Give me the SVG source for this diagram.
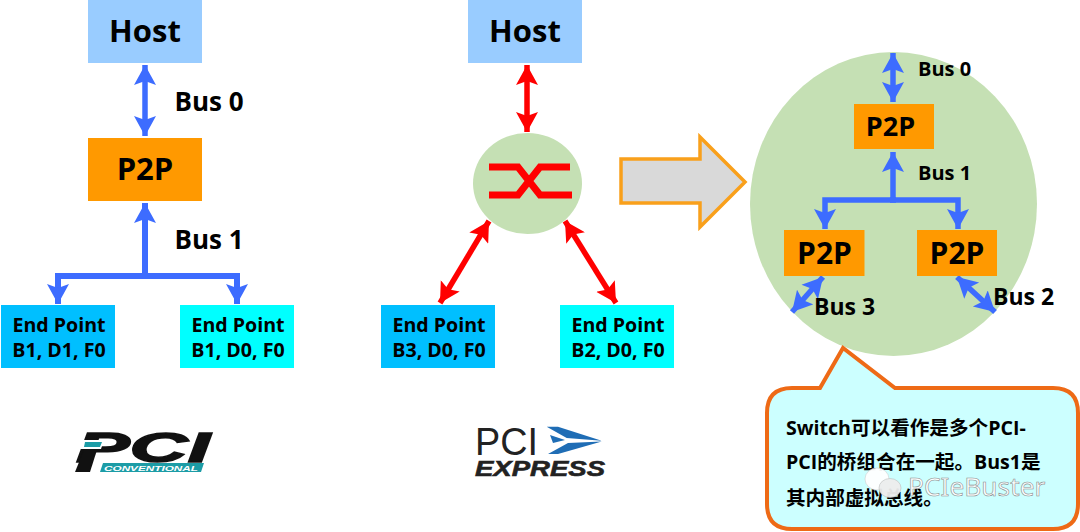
<svg xmlns="http://www.w3.org/2000/svg" width="1080" height="532" viewBox="0 0 1080 532">
<style>
text{font-family:"Open Sans","Noto Sans CJK SC",sans-serif;font-weight:700;fill:#000;text-anchor:middle}
.host{fill:#99CCFF}.p2p{fill:#FF9900}.ep1{fill:#00BFFF}.ep2{fill:#00FFFF}
.big{font-size:31px}.bus{font-size:26px;text-anchor:start}.ep{font-size:19.6px}.sm{font-size:20px;text-anchor:start}.note{font-size:19.6px;text-anchor:start}
.b{fill:none;stroke:#3D6CFF;stroke-width:5.5}.r{fill:none;stroke:#FF0000;stroke-width:5.5}
.be{marker-end:url(#ba)}.bb{marker-start:url(#bs);marker-end:url(#ba)}.rb{marker-start:url(#rs);marker-end:url(#ra)}
.logo{font-family:"Liberation Sans",sans-serif;text-anchor:start}
</style>
<defs>
<marker id="ba" markerUnits="userSpaceOnUse" markerWidth="24" markerHeight="24" refX="20" refY="11" orient="auto"><path d="M0,0L20,11L0,22L4,11Z" fill="#3D6CFF"/></marker>
<marker id="bs" markerUnits="userSpaceOnUse" markerWidth="24" markerHeight="24" refX="0" refY="11" orient="auto"><path d="M20,0L0,11L20,22L16,11Z" fill="#3D6CFF"/></marker>
<marker id="ra" markerUnits="userSpaceOnUse" markerWidth="24" markerHeight="24" refX="20" refY="11" orient="auto"><path d="M0,0L20,11L0,22L4,11Z" fill="#FF0000"/></marker>
<marker id="rs" markerUnits="userSpaceOnUse" markerWidth="24" markerHeight="24" refX="0" refY="11" orient="auto"><path d="M20,0L0,11L20,22L16,11Z" fill="#FF0000"/></marker>
</defs>
<rect width="1080" height="532" fill="#fff"/>

<g id="switch-detail-circle"><ellipse cx="893.5" cy="204" rx="143.5" ry="152" fill="#C5E0B4"/></g>

<g id="connectors">
<path class="b bb" d="M145,65V136"/>
<path class="b be" d="M145,276V203" style="stroke-width:6"/>
<path class="b be" d="M148,276H58V304" style="stroke-width:6"/>
<path class="b be" d="M142,276H237V304" style="stroke-width:6"/>
<path class="r rb" d="M527,65V132"/>
<path class="r rb" d="M489,221L440,303"/>
<path class="r rb" d="M565,221L616,303"/>
<path class="b bb" d="M893,53V102"/>
<path class="b be" d="M893,200V152"/>
<path class="b be" d="M896,200H825V229"/>
<path class="b be" d="M890,200H958V229"/>
<path class="b bb" d="M823,277L792,312"/>
<path class="b bb" d="M957,277L995,312"/>
</g>

<g id="host-left"><rect class="host" x="88" y="0" width="114" height="63"/><text class="big" x="145" y="42">Host</text></g>
<g id="p2p-left"><rect class="p2p" x="88" y="138" width="114" height="63"/><text class="big" x="145" y="180">P2P</text></g>
<g id="ep-b1d1"><rect class="ep1" x="1" y="305" width="114" height="63"/><text class="ep" x="59" y="332">End Point</text><text class="ep" x="59" y="357">B1, D1, F0</text></g>
<g id="ep-b1d0"><rect class="ep2" x="180" y="305" width="114" height="63"/><text class="ep" x="238" y="332">End Point</text><text class="ep" x="238" y="357">B1, D0, F0</text></g>
<text class="bus" x="174.5" y="111">Bus 0</text>
<text class="bus" x="174.5" y="249">Bus 1</text>

<g id="host-mid"><rect class="host" x="468" y="0" width="114" height="63"/><text class="big" x="525" y="42">Host</text></g>
<g id="switch-mid"><ellipse cx="527.5" cy="183.5" rx="54.5" ry="50.5" fill="#C5E0B4"/>
<path d="M489,167H518L540,195H572M489,195H518L540,167H570" fill="none" stroke="#FF0000" stroke-width="7"/></g>
<g id="ep-b3d0"><rect class="ep1" x="381" y="305" width="114" height="63"/><text class="ep" x="439" y="332">End Point</text><text class="ep" x="439" y="357">B3, D0, F0</text></g>
<g id="ep-b2d0"><rect class="ep2" x="560" y="305" width="114" height="63"/><text class="ep" x="618" y="332">End Point</text><text class="ep" x="618" y="357">B2, D0, F0</text></g>

<g id="block-arrow"><path d="M621,159H700V137L745,182L700,227V203H621Z" fill="#D9D9D9" stroke="#F9A01B" stroke-width="3.5"/></g>

<g id="p2p-top"><rect class="p2p" x="854" y="104" width="80" height="45"/><text x="890.5" y="136" style="font-size:27px">P2P</text></g>
<g id="p2p-bl"><rect class="p2p" x="784" y="230" width="80.5" height="46"/><text x="824.5" y="264" style="font-size:30px">P2P</text></g>
<g id="p2p-br"><rect class="p2p" x="917" y="230" width="80" height="46"/><text x="957" y="264" style="font-size:30px">P2P</text></g>
<text class="sm" x="918" y="76">Bus 0</text>
<text class="sm" x="918" y="180">Bus 1</text>
<text class="bus" x="814" y="315" style="font-size:23px">Bus 3</text>
<text class="bus" x="993" y="305" style="font-size:23px">Bus 2</text>

<g id="callout"><path d="M792,388H820L843,348L895,388H1053Q1078,388 1078,413V504Q1078,529 1053,529H792Q767,529 767,504V413Q767,388 792,388Z" fill="#CCFFFF" stroke="#EE6A16" stroke-width="4"/>
<text class="note" x="786" y="435">Switch可以看作是多个PCI-</text>
<text class="note" x="786" y="469">PCI的桥组合在一起。Bus1是</text>
<text class="note" x="786" y="505">其内部虚拟总线。</text></g>

<g id="watermark" opacity="0.95"><ellipse cx="877" cy="479" rx="12" ry="11" fill="#fff" stroke="#ccc" stroke-width=".6"/><ellipse cx="890" cy="488" rx="11" ry="9.5" fill="#eee" stroke="#bbb" stroke-width=".6"/>
<text x="908" y="496" style="font-size:26.3px;font-weight:400;fill:#fff;stroke:#888;stroke-width:.6;text-anchor:start;font-family:'Noto Sans',sans-serif">PCIeBuster</text></g>

<g id="logo-pci">
<text class="logo" x="76" y="462" textLength="134" lengthAdjust="spacingAndGlyphs" style="font-size:43px;font-weight:700;font-style:italic;stroke:#111;stroke-width:1.5;fill:#111">PCI</text>
<path d="M75,472L84,450H97L90,472Z" fill="#111"/>
<path d="M83,440H104L101,449H80Z" fill="#fff"/>
<path d="M85,442H102L100,447H84Z" fill="#1C9CA6"/>
<path d="M103,463H204L201,472H100Z" fill="#1C9CA6"/>
<text class="logo" x="104" y="470.5" textLength="94" lengthAdjust="spacingAndGlyphs" style="font-size:8px;font-weight:700;font-style:italic;fill:#fff">CONVENTIONAL</text>
</g>
<g id="logo-pcie">
<text class="logo" x="475" y="455" textLength="63" lengthAdjust="spacingAndGlyphs" style="font-size:38px;font-weight:400;fill:#222">PCI</text>
<path d="M546.7,426.7H558L601.7,440.7L566.7,438ZM550,435L565,440L553,443ZM601.7,441.5L568,443L548,454H558Z" fill="#1F6DB5"/>
<text class="logo" x="475" y="476" textLength="130" lengthAdjust="spacingAndGlyphs" style="font-size:22px;font-weight:700;font-style:italic;fill:#222;stroke:#222;stroke-width:.6">EXPRESS</text>
</g>
</svg>
